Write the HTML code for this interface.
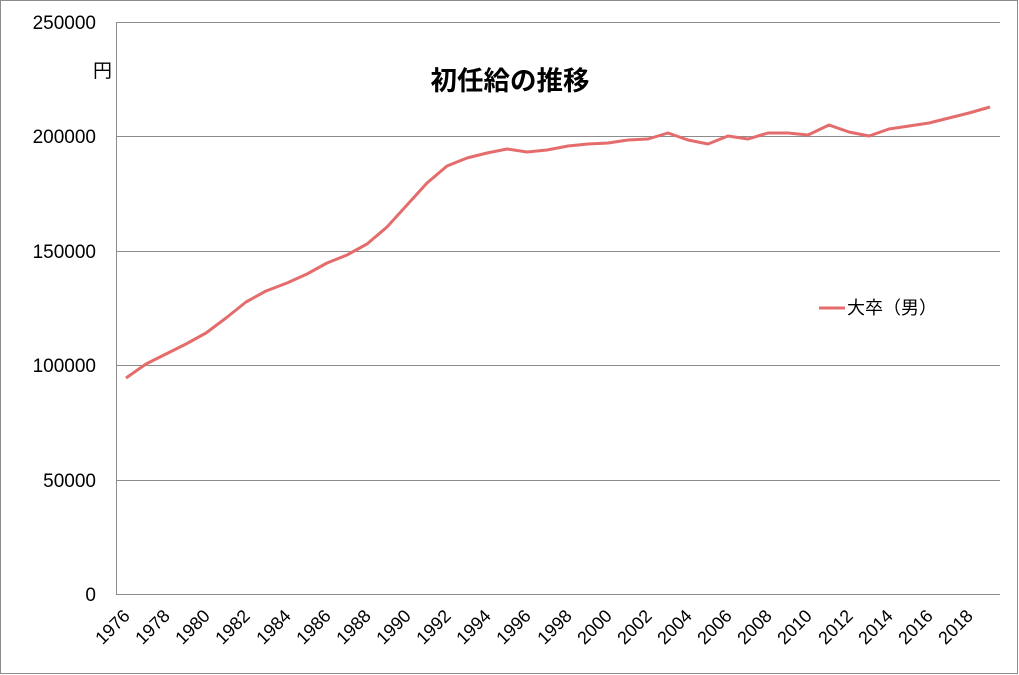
<!DOCTYPE html>
<html><head><meta charset="utf-8"><style>
html,body{margin:0;padding:0;background:#fff}
svg{display:block}
text{font-family:"Liberation Sans","Noto Sans CJK JP",sans-serif;fill:#000}
</style></head><body>
<svg width="1019" height="675" viewBox="0 0 1019 675" xmlns="http://www.w3.org/2000/svg">
<rect x="0.5" y="0.5" width="1017" height="673" fill="#fff" stroke="#8c8c8c"/>
<g stroke="#8c8c8c" stroke-width="1">
<line x1="116" y1="22.5" x2="1000" y2="22.5"/>
<line x1="116" y1="136.5" x2="1000" y2="136.5"/>
<line x1="116" y1="251.5" x2="1000" y2="251.5"/>
<line x1="116" y1="365.5" x2="1000" y2="365.5"/>
<line x1="116" y1="480.5" x2="1000" y2="480.5"/>
<line x1="116" y1="594.5" x2="1000" y2="594.5"/>
<line x1="116.5" y1="22" x2="116.5" y2="594"/>
</g>
<g font-size="19" text-anchor="end">
<text x="96" y="29">250000</text>
<text x="96" y="143">200000</text>
<text x="96" y="258">150000</text>
<text x="96" y="372">100000</text>
<text x="96" y="487">50000</text>
<text x="96" y="601">0</text>
</g>
<text x="93" y="77" font-size="19">円</text>
<text x="510" y="90" font-size="26.5" font-weight="bold" text-anchor="middle">初任給の推移</text>
<polyline fill="none" stroke="#e46c6c" stroke-width="3" stroke-linejoin="round" points="126,378 146,364 166,354 186,344 206,333 226,318 246,302 266,291 287,283 307,274 327,263 347,255 367,244 387,227 407,205 427,183 447,166 467,158 487,153 507,149 527,152 547,150 568,146 588,144 608,143 628,140 648,139 668,133 688,140 708,144 728,136 748,139 768,133 788,133 808,135 829,125 849,132 869,136 889,129 909,126 929,123 949,118 969,113 990,107"/>
<line x1="819" y1="308" x2="845" y2="308" stroke="#e46c6c" stroke-width="3"/>
<text x="847" y="314" font-size="18">大卒（男）</text>
<g font-size="18" text-anchor="end">
<text transform="translate(131,617) rotate(-45)">1976</text>
<text transform="translate(171,617) rotate(-45)">1978</text>
<text transform="translate(211,617) rotate(-45)">1980</text>
<text transform="translate(251,617) rotate(-45)">1982</text>
<text transform="translate(292,617) rotate(-45)">1984</text>
<text transform="translate(332,617) rotate(-45)">1986</text>
<text transform="translate(372,617) rotate(-45)">1988</text>
<text transform="translate(412,617) rotate(-45)">1990</text>
<text transform="translate(452,617) rotate(-45)">1992</text>
<text transform="translate(492,617) rotate(-45)">1994</text>
<text transform="translate(532,617) rotate(-45)">1996</text>
<text transform="translate(573,617) rotate(-45)">1998</text>
<text transform="translate(613,617) rotate(-45)">2000</text>
<text transform="translate(653,617) rotate(-45)">2002</text>
<text transform="translate(693,617) rotate(-45)">2004</text>
<text transform="translate(733,617) rotate(-45)">2006</text>
<text transform="translate(773,617) rotate(-45)">2008</text>
<text transform="translate(813,617) rotate(-45)">2010</text>
<text transform="translate(854,617) rotate(-45)">2012</text>
<text transform="translate(894,617) rotate(-45)">2014</text>
<text transform="translate(934,617) rotate(-45)">2016</text>
<text transform="translate(974,617) rotate(-45)">2018</text>
</g>
</svg>
</body></html>
